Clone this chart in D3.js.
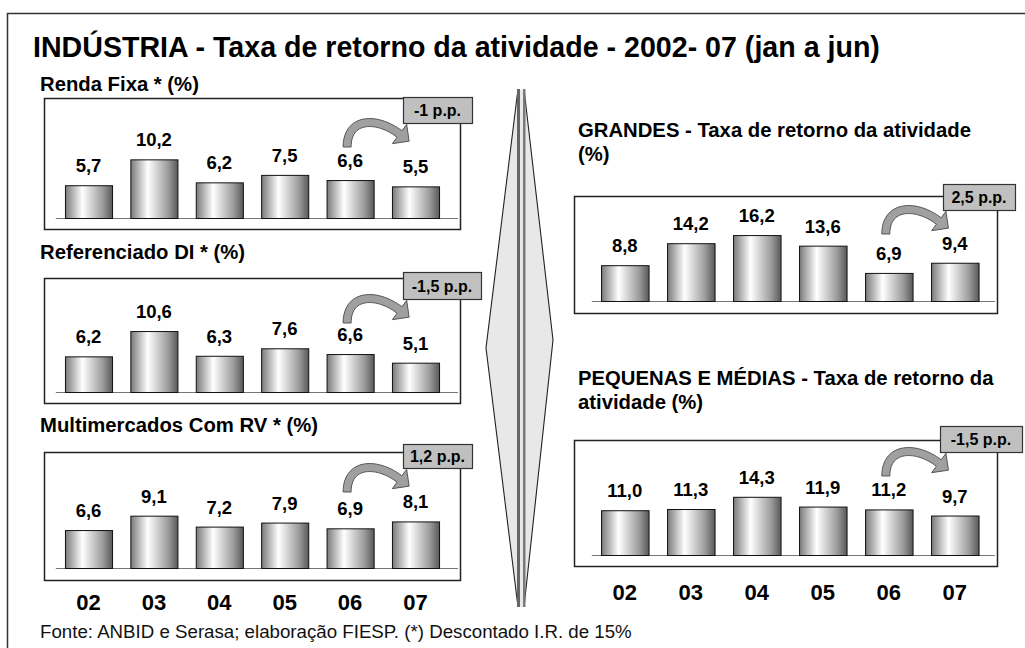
<!DOCTYPE html>
<html>
<head>
<meta charset="utf-8">
<script src="https://cdn.jsdelivr.net/npm/d3@7"></script>
<style>
  html, body { margin: 0; padding: 0; background: #fff; }
  svg { display: block; font-family: "Liberation Sans", Arial, sans-serif; }
</style>
</head>
<body>
<svg id="chart" width="1025" height="648"></svg>
<script>
// ---- data ----
const years = ["02", "03", "04", "05", "06", "07"];
const rendaFixa = [5.7, 10.2, 6.2, 7.5, 6.6, 5.5];
const referenciadoDI = [6.2, 10.6, 6.3, 7.6, 6.6, 5.1];
const multimercados = [6.6, 9.1, 7.2, 7.9, 6.9, 8.1];
const grandes = [8.8, 14.2, 16.2, 13.6, 6.9, 9.4];
const pequenasMedias = [11.0, 11.3, 14.3, 11.9, 11.2, 9.7];
const changeLabels = ["-1 p.p.", "-1,5 p.p.", "1,2 p.p.", "2,5 p.p.", "-1,5 p.p."];
const panelTitles = [
  ["Renda Fixa * (%)"],
  ["Referenciado DI * (%)"],
  ["Multimercados Com RV * (%)"],
  ["GRANDES - Taxa de retorno da atividade", "(%)"],
  ["PEQUENAS E MÉDIAS - Taxa de retorno da", "atividade  (%)"]
];
const mainTitle = "INDÚSTRIA - Taxa de retorno da atividade - 2002- 07 (jan a jun)";
const footnote = "Fonte: ANBID e Serasa; elaboração FIESP. (*) Descontado I.R. de 15%";

// ---- layout ----
const svg = d3.select("#chart");
const fmt = v => d3.format(".1f")(v).replace(".", ",");

const defs = svg.append("defs");
const grad = defs.append("linearGradient").attr("id", "cyl").attr("x1", "0").attr("x2", "1").attr("y1", "0").attr("y2", "0");
[[0, "#7a7a7a"], [0.36, "#ffffff"], [0.8, "#999999"], [1, "#585858"]].forEach(([o, c]) =>
  grad.append("stop").attr("offset", o).attr("stop-color", c));

// outer frame
svg.append("rect").attr("x", 7.5).attr("y", 13.5).attr("width", 1040).attr("height", 660)
  .attr("fill", "none").attr("stroke", "#333").attr("stroke-width", 1.5);

svg.append("text").attr("x", 33).attr("y", 57).attr("font-size", 28.6).attr("font-weight", "bold")
  .attr("fill", "#000").text(mainTitle);

svg.append("text").attr("x", 40).attr("y", 638).attr("font-size", 18.7).attr("fill", "#111").text(footnote);

// divider
const div = svg.append("g");
div.append("rect").attr("x", 517).attr("y", 90).attr("width", 7).attr("height", 517).attr("fill", "#e8e8e8");
div.append("path").attr("d", "M518,89 L486,348 L518,607 Z").attr("fill", "#e8e8e8").attr("stroke", "#222").attr("stroke-width", 1.1);
div.append("path").attr("d", "M524,89 L553,340 L524,607 Z").attr("fill", "#e8e8e8").attr("stroke", "#222").attr("stroke-width", 1.1);
div.append("line").attr("x1", 518.5).attr("x2", 518.5).attr("y1", 89).attr("y2", 607).attr("stroke", "#666").attr("stroke-width", 3);
div.append("line").attr("x1", 524.5).attr("x2", 524.5).attr("y1", 89).attr("y2", 607).attr("stroke", "#7a7a7a").attr("stroke-width", 2);

const panels = [
  { data: rendaFixa, title: panelTitles[0], tx: 40, ty: 91, box: [44, 98, 416, 131], base: 218, range: [55.8, 448.2], k: 5.75, lab: [403, 97, 69, 26], change: changeLabels[0] },
  { data: referenciadoDI, title: panelTitles[1], tx: 40, ty: 259, box: [44, 278, 416, 125], base: 392, range: [55.8, 448.2], k: 5.75, lab: [403, 272, 78, 27], change: changeLabels[1] },
  { data: multimercados, title: panelTitles[2], tx: 40, ty: 432, box: [44, 452, 416, 128], base: 568, range: [55.8, 448.2], k: 5.75, lab: [403, 444, 69, 24], change: changeLabels[2], cats: 610 },
  { data: grandes, title: panelTitles[3], tx: 578, ty: 137, box: [574, 196, 423, 117], base: 301, range: [591.8, 987.8], k: 4.07, lab: [943, 184, 72, 26], change: changeLabels[3] },
  { data: pequenasMedias, title: panelTitles[4], tx: 578, ty: 385, box: [574, 440, 423, 126], base: 555, range: [591.8, 987.8], k: 4.07, lab: [940, 426, 82, 26], change: changeLabels[4], cats: 600 }
];

panels.forEach(p => {
  const g = svg.append("g");
  const x = d3.scaleBand().domain(years).range(p.range).paddingInner(0.28).paddingOuter(0.14);
  const y = d3.scaleLinear().domain([0, 20]).range([p.base, p.base - 20 * p.k]);

  p.title.forEach((t, i) => g.append("text").attr("x", p.tx).attr("y", p.ty + i * 24)
    .attr("font-size", 20.3).attr("font-weight", "bold").attr("fill", "#000").text(t));

  const [bx, by, bw, bh] = p.box;
  g.append("rect").attr("x", bx + 0.5).attr("y", by + 0.5).attr("width", bw).attr("height", bh)
    .attr("fill", "#fff").attr("stroke", "#222").attr("stroke-width", 1.5);
  g.append("line").attr("x1", p.range[0]).attr("x2", bx + bw - 2).attr("y1", p.base + 0.5).attr("y2", p.base + 0.5)
    .attr("stroke", "#777").attr("stroke-width", 1);

  g.selectAll("rect.bar").data(p.data).join("rect").attr("class", "bar")
    .attr("x", (d, i) => x(years[i]) + 0.5).attr("y", d => y(d) + 0.5)
    .attr("width", x.bandwidth()).attr("height", d => y(0) - y(d))
    .attr("fill", "url(#cyl)").attr("stroke", "#111").attr("stroke-width", 1);

  g.selectAll("text.val").data(p.data).join("text").attr("class", "val")
    .attr("x", (d, i) => x(years[i]) + x.bandwidth() / 2).attr("y", d => y(d) - 13)
    .attr("text-anchor", "middle").attr("font-size", 18.5).attr("font-weight", "bold").attr("fill", "#000")
    .text(fmt);

  // curved arrow from bar 5 to bar 6
  const x5 = x(years[4]) + x.bandwidth() / 2, x6 = x(years[5]) + x.bandwidth() / 2;
  const yb = p.lab[1] + p.lab[3] + 24;
  const P0 = [x5 - 3, yb], P1 = [x5 - 3, yb - 30], P2 = [x6 - 38, yb - 30], P3 = [x6 - 16, yb - 13];
  const bez = t => {
    const u = 1 - t;
    return [0, 1].map(j => u*u*u*P0[j] + 3*u*u*t*P1[j] + 3*u*t*t*P2[j] + t*t*t*P3[j]);
  };
  const N = 30, w0 = 8, outer = [], inner = [];
  for (let i = 0; i <= N; i++) {
    const t = i / N, a = bez(Math.max(0, t - 0.01)), b = bez(Math.min(1, t + 0.01));
    const dx = b[0] - a[0], dy = b[1] - a[1], L = Math.hypot(dx, dy);
    const nx = -dy / L, ny = dx / L, c = bez(t), w = w0 / 2;
    outer.push([c[0] - nx * w, c[1] - ny * w]); inner.push([c[0] + nx * w, c[1] + ny * w]);
  }
  const e = bez(1), e0 = bez(0.97), dxe = e[0] - e0[0], dye = e[1] - e0[1], Le = Math.hypot(dxe, dye);
  const ux = dxe / Le, uy = dye / Le, nx = -uy, ny = ux;
  const hw = 12, hl = 12;
  const tip = [e[0] + ux * hl, e[1] + uy * hl];
  const pts = [...outer, [e[0] - nx * hw, e[1] - ny * hw], tip, [e[0] + nx * hw, e[1] + ny * hw], ...inner.reverse()];
  g.append("path").attr("d", "M" + pts.map(q => q.join(",")).join("L") + "Z")
    .attr("fill", "#a0a0a0").attr("stroke", "#555").attr("stroke-width", 1);

  // change label box
  const [lx, ly, lw, lh] = p.lab;
  g.append("rect").attr("x", lx + 0.5).attr("y", ly + 0.5).attr("width", lw).attr("height", lh)
    .attr("fill", "#c0c0c0").attr("stroke", "#333").attr("stroke-width", 1.2);
  g.append("text").attr("x", lx + lw / 2).attr("y", ly + lh / 2 + 6).attr("text-anchor", "middle")
    .attr("font-size", 16).attr("font-weight", "bold").attr("fill", "#000").text(p.change);

  if (p.cats) {
    g.selectAll("text.cat").data(years).join("text").attr("class", "cat")
      .attr("x", d => x(d) + x.bandwidth() / 2).attr("y", p.cats)
      .attr("text-anchor", "middle").attr("font-size", 22).attr("font-weight", "bold").attr("fill", "#000")
      .text(d => d);
  }
});
</script>
</body>
</html>
